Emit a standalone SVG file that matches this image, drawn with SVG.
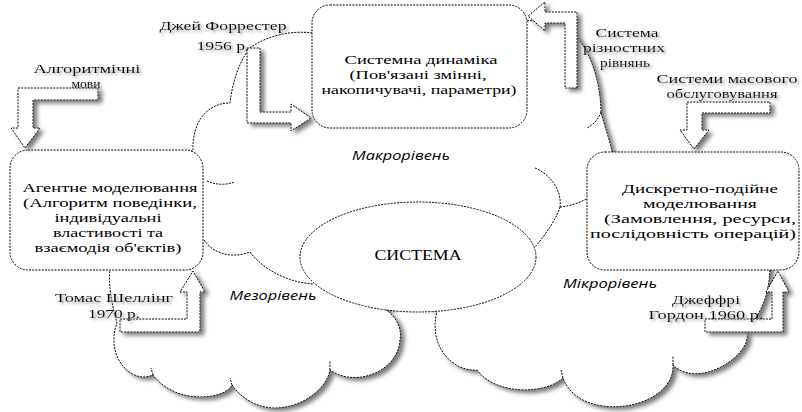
<svg xmlns="http://www.w3.org/2000/svg" width="802" height="412" viewBox="0 0 802 412">
  <defs>
    <style>
      .dash { fill: #fff; stroke: #000; stroke-width: 1; stroke-dasharray: 2 1.2; }
      .line { fill: none; stroke: #000; stroke-width: 1; stroke-dasharray: 2 1.2; }
      .t { font-family: "Liberation Serif", "Times New Roman", serif; font-size: 13.5px; fill: #000; text-anchor: middle; }
      .lvl { font-family: "Open Sans", "Noto Sans", sans-serif; font-style: italic; font-size: 13.5px; fill: #000; text-anchor: middle; }
    </style>
    <filter id="shadow" x="-10%" y="-10%" width="130%" height="130%">
      <feGaussianBlur in="SourceAlpha" stdDeviation="2"/>
      <feOffset dx="4" dy="3" result="blur"/>
      <feFlood flood-color="#7a7a7a"/>
      <feComposite in2="blur" operator="in"/>
      <feMerge><feMergeNode/><feMergeNode in="SourceGraphic"/></feMerge>
    </filter>
    <filter id="tshadow" x="-10%" y="-30%" width="130%" height="180%">
      <feGaussianBlur in="SourceAlpha" stdDeviation="1.6"/>
      <feOffset dx="2" dy="2" result="blur"/>
      <feFlood flood-color="#9a9a9a"/>
      <feComposite in2="blur" operator="in"/>
      <feMerge><feMergeNode/><feMergeNode in="SourceGraphic"/></feMerge>
    </filter>
  </defs>

  <rect width="802" height="412" fill="#fff"/>

  <!-- cloud that holds the three levels -->
  <g id="cloud">
    <path class="dash" filter="url(#shadow)" d="M247,50 C265,36 290,30 312,33 L320,20 L520,20 L563,23
      C580,35 600,65 601,112 C604,125 610,140 612,152 L700,165 L770,265
      C770,295 760,318 745,328
      C760,350 700,392 673,365
      C675,410 580,425 563,378
      C545,395 495,395 477,370
      C452,372 428,345 437,312
      L418,300 L385,309
      C398,318 402,330 400,340
      C398,372 355,388 330,370
      C325,400 265,430 232,385
      C225,400 175,405 153,375
      C130,385 105,355 117,323
      C112,305 108,285 110,270
      L100,200 L193,150
      C192,125 205,103 230,103
      C232,85 238,65 247,52 Z"/>
    <!-- inner bump edges -->
    <path class="line" d="M601,112 C598,120 593,125 587,128"/>
    <path class="line" d="M207,181 Q220,187 235,182"/>
    <path class="line" d="M204,240 C215,256 235,258 250,252"/>
    <path class="line" d="M250,252 C262,268 285,282 313,284"/>
    <path class="line" d="M535,168 C552,175 562,192 560,207"/>
    <path class="line" d="M560,207 C570,206 580,203 588,198"/>
    <path class="line" d="M560,207 C558,215 548,232 535,247"/>
    <path class="line" d="M673,365 L673,356"/>
    <path class="line" d="M563,378 L561,370"/>
    <path class="line" d="M330,370 L330,361"/>
    <path class="line" d="M232,385 L230,378"/>
    <path class="line" d="M153,375 L151,368"/>
  </g>

  <!-- system core -->
  <g id="system">
    <ellipse class="dash" cx="418" cy="257" rx="118" ry="55"/>
    <text class="t" x="418" y="260" textLength="87" lengthAdjust="spacingAndGlyphs" style="font-size:15px">СИСТЕМА</text>
  </g>

  <!-- level names -->
  <g id="levels">
    <text class="lvl" x="401" y="160" textLength="98" lengthAdjust="spacingAndGlyphs">Макрорівень</text>
    <text class="lvl" x="273" y="300" textLength="87" lengthAdjust="spacingAndGlyphs">Мезорівень</text>
    <text class="lvl" x="610" y="288" textLength="94" lengthAdjust="spacingAndGlyphs">Мікрорівень</text>
  </g>

  <!-- modelling approaches -->
  <g id="system-dynamics">
    <rect class="dash" x="312" y="5" width="215" height="123" rx="18"/>
    <text class="t" x="421" y="64" textLength="153" lengthAdjust="spacingAndGlyphs">Системна динаміка</text>
    <text class="t" x="418" y="79" textLength="137" lengthAdjust="spacingAndGlyphs">(Пов'язані змінні,</text>
    <text class="t" x="419" y="94" textLength="195" lengthAdjust="spacingAndGlyphs">накопичувачі, параметри)</text>
  </g>

  <g id="agent-based">
    <rect class="dash" x="10" y="150" width="193" height="120" rx="18"/>
    <text class="t" x="110" y="191.5" textLength="175" lengthAdjust="spacingAndGlyphs">Агентне моделювання</text>
    <text class="t" x="110" y="206.5" textLength="174" lengthAdjust="spacingAndGlyphs">(Алгоритм поведінки,</text>
    <text class="t" x="108" y="221.5" textLength="107" lengthAdjust="spacingAndGlyphs">індивідуальні</text>
    <text class="t" x="108" y="236.5" textLength="110" lengthAdjust="spacingAndGlyphs">властивості та</text>
    <text class="t" x="108" y="251.5" textLength="147" lengthAdjust="spacingAndGlyphs">взаємодія об'єктів)</text>
  </g>

  <g id="discrete-event">
    <rect class="dash" x="587" y="152" width="212" height="118" rx="18"/>
    <text class="t" x="700" y="193" textLength="156" lengthAdjust="spacingAndGlyphs">Дискретно-подійне</text>
    <text class="t" x="700" y="208" textLength="114" lengthAdjust="spacingAndGlyphs">моделювання</text>
    <text class="t" x="700" y="223" textLength="192" lengthAdjust="spacingAndGlyphs">(Замовлення, ресурси,</text>
    <text class="t" x="693" y="238" textLength="206" lengthAdjust="spacingAndGlyphs">послідовність операцій)</text>
  </g>

  <!-- sources pointing at the approaches -->
  <g id="connectors">
    <polygon class="dash" filter="url(#shadow)" points="18,88 98,88 98,100 33,100 33,128 40,128 25,148 11,128 18,128"/>
    <polygon class="dash" filter="url(#shadow)" points="247,48 260,48 260,112 291,112 291,104 311,118 291,131 291,123 247,123"/>
    <polygon class="dash" filter="url(#shadow)" points="577,88 577,12 545,12 545,2 528,16 545,31 545,23 565,23 565,88"/>
    <polygon class="dash" filter="url(#shadow)" points="687,102 770,102 770,113 702,113 702,130 709,130 694,149 680,130 687,130"/>
    <polygon class="dash" filter="url(#shadow)" points="120,319 187,319 187,292 180,292 193,271 205,292 200,292 200,332 120,332"/>
    <polygon class="dash" filter="url(#shadow)" points="705,319 772,319 772,292 766,292 778,271 789,292 783,292 783,332 705,332"/>
  </g>

  <!-- source labels -->
  <g id="labels" filter="url(#tshadow)">
    <text class="t" x="223" y="30" textLength="127" lengthAdjust="spacingAndGlyphs">Джей Форрестер</text>
    <text class="t" x="223" y="50" textLength="53" lengthAdjust="spacingAndGlyphs">1956 р.</text>
    <text class="t" x="87" y="73" textLength="107" lengthAdjust="spacingAndGlyphs">Алгоритмічні</text>
    <text class="t" x="86" y="88" textLength="29" lengthAdjust="spacingAndGlyphs">мови</text>
    <text class="t" x="627" y="37" textLength="63" lengthAdjust="spacingAndGlyphs">Система</text>
    <text class="t" x="624" y="52" textLength="82" lengthAdjust="spacingAndGlyphs">різностних</text>
    <text class="t" x="625" y="67" textLength="50" lengthAdjust="spacingAndGlyphs">рівнянь</text>
    <text class="t" x="727" y="83" textLength="141" lengthAdjust="spacingAndGlyphs">Системи масового</text>
    <text class="t" x="722" y="98" textLength="111" lengthAdjust="spacingAndGlyphs">обслуговування</text>
    <text class="t" x="114" y="302" textLength="118" lengthAdjust="spacingAndGlyphs">Томас Шеллінг</text>
    <text class="t" x="114" y="318" textLength="52" lengthAdjust="spacingAndGlyphs">1970 р.</text>
    <text class="t" x="706" y="304" textLength="68" lengthAdjust="spacingAndGlyphs">Джеффрі</text>
    <text class="t" x="706" y="319" textLength="115" lengthAdjust="spacingAndGlyphs">Гордон 1960 р.</text>
  </g>
</svg>
